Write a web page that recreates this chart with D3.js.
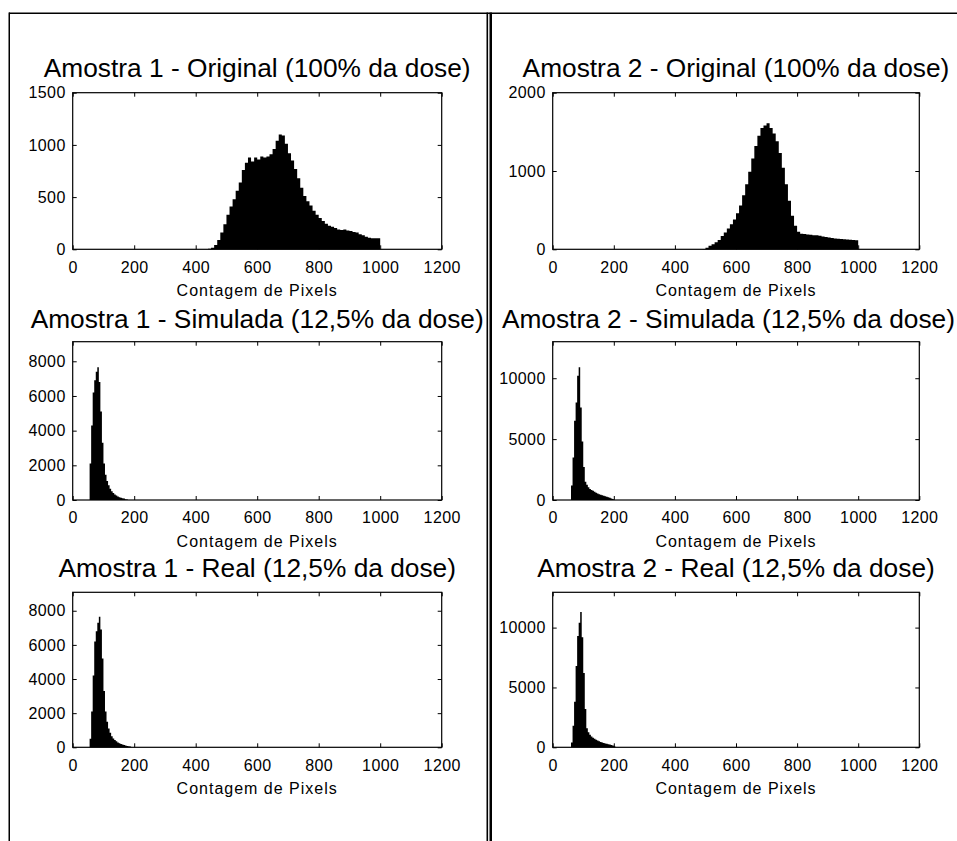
<!DOCTYPE html>
<html><head><meta charset="utf-8">
<script src="https://cdn.jsdelivr.net/npm/d3@7"></script>
<style>body{margin:0;background:#fff} svg{display:block}</style>
</head><body>
<svg id="c" width="957" height="841"></svg>
<script>
// ---------- DATA ----------
const xTickValues = [0, 200, 400, 600, 800, 1000, 1200];
const xLabel = "Contagem de Pixels";

const titles = [
  "Amostra 1 - Original (100% da dose)",
  "Amostra 2 - Original (100% da dose)",
  "Amostra 1 - Simulada (12,5% da dose)",
  "Amostra 2 - Simulada (12,5% da dose)",
  "Amostra 1 - Real (12,5% da dose)",
  "Amostra 2 - Real (12,5% da dose)"
];

// Amostra 1 - Original: bin starts (width 10) and counts
const a1OrigBins = [440,450,460,470,480,490,500,510,520,530,540,550,560,570,580,590,600,610,620,630,640,650,660,670,680,690,700,710,720,730,740,750,760,770,780,790,800,810,820,830,840,850,860,870,880,890,900,910,920,930,940,950,960,970,980,990];
const a1OrigCounts = [5,15,40,90,160,240,330,410,480,560,640,760,830,880,840,880,860,890,880,890,910,960,1040,1100,1090,1010,920,850,770,680,590,510,460,420,370,330,300,270,245,225,215,205,190,185,190,180,175,165,160,145,135,120,110,105,105,105];

// Amostra 2 - Original (width 10)
const a2OrigBins = [490,500,510,520,530,540,550,560,570,580,590,600,610,620,630,640,650,660,670,680,690,700,710,720,730,740,750,760,770,780,790,800,810,820,830,840,850,860,870,880,890,900,910,920,930,940,950,960,970,980,990];
const a2OrigCounts = [5,20,45,65,90,120,170,215,265,320,380,460,560,690,830,990,1160,1320,1450,1550,1580,1610,1550,1480,1380,1230,1040,830,620,430,300,225,200,195,190,185,180,178,172,165,158,150,145,138,135,130,128,125,122,120,115];

// Amostra 1 - Simulada (width 5)
const a1SimBins = [55,60,65,70,75,80,85,90,95,100,105,110,115,120,125,130,135,140,145,150,155,160,165,170,175];
const a1SimCounts = [2100,4300,6200,6900,7400,7650,6800,5100,3300,2100,1450,1100,850,650,500,400,320,260,200,160,130,100,80,50,30];

// Amostra 2 - Simulada (width 5)
const a2SimBins = [60,65,70,75,80,85,90,95,100,105,110,115,120,125,130,135,140,145,150,155,160,165,170,175,180,185,190,195];
const a2SimCounts = [1200,3500,6500,8000,10200,10900,7600,4800,2700,1500,1250,1050,900,820,750,680,600,540,480,430,380,340,300,260,220,180,130,80];

// Amostra 1 - Real (width 5)
const a1RealBins = [55,60,65,70,75,80,85,90,95,100,105,110,115,120,125,130,135,140,145,150,155,160,165,170,175,180,185];
const a1RealCounts = [500,2100,4200,6200,6800,7300,7650,6900,5200,3300,2100,1500,1100,850,650,520,430,350,280,230,190,160,130,100,80,60,40];

// Amostra 2 - Real (width 5)
const a2RealBins = [60,65,70,75,80,85,90,95,100,105,110,115,120,125,130,135,140,145,150,155,160,165,170,175,180,185,190,195,200];
const a2RealCounts = [400,1800,3800,6800,9300,10400,11300,9200,6200,3200,1600,1250,1050,900,800,720,640,570,500,440,400,360,320,290,260,230,190,140,90];

const yMaxes = [1500, 2000, 9130, 13000, 9080, 12950];
const yTickSets = [
  [0, 500, 1000, 1500],
  [0, 1000, 2000],
  [0, 2000, 4000, 6000, 8000],
  [0, 5000, 10000],
  [0, 2000, 4000, 6000, 8000],
  [0, 5000, 10000]
];
const binWidths = [10, 10, 5, 5, 5, 5];

// ---------- LAYOUT ----------
const cols = [{x0: 72.7, x1: 441.7}, {x0: 552.7, x1: 919.3}];
const rows = [
  {y0: 92.7, y1: 249.3, ty: 77.3},
  {y0: 341.7, y1: 500, ty: 328.3},
  {y0: 592.3, y1: 747.3, ty: 577.3}
];

const series = [
  [a1OrigBins, a1OrigCounts], [a2OrigBins, a2OrigCounts],
  [a1SimBins, a1SimCounts], [a2SimBins, a2SimCounts],
  [a1RealBins, a1RealCounts], [a2RealBins, a2RealCounts]
];

const svg = d3.select("#c");
const FONT = "'Liberation Sans', Arial, sans-serif";
const fmt = d3.format("d");

// frame lines
const frame = svg.append("g").attr("fill", "#000");
frame.append("rect").attr("x", 9).attr("y", 12.5).attr("width", 948).attr("height", 1.5);
frame.append("rect").attr("x", 8.5).attr("y", 12.5).attr("width", 1.5).attr("height", 829);
frame.append("rect").attr("x", 486.5).attr("y", 12.5).attr("width", 1.6).attr("height", 829);
frame.append("rect").attr("x", 489.5).attr("y", 12.5).attr("width", 2.5).attr("height", 829);

series.forEach(([bins, counts], i) => {
  const col = cols[i % 2], row = rows[Math.floor(i / 2)];
  const x = d3.scaleLinear().domain([0, 1200]).range([col.x0, col.x1]);
  const y = d3.scaleLinear().domain([0, yMaxes[i]]).range([row.y1, row.y0]);
  const g = svg.append("g");
  const bw = binWidths[i];

  // histogram as a single stepped area (bins with their counts, closed at the last bin edge)
  const pts = bins.map((b, k) => [b, counts[k]]);
  pts.push([bins[bins.length - 1] + bw, counts[counts.length - 1]]);
  const area = d3.area()
    .x(d => x(d[0])).y0(y(0)).y1(d => y(d[1]))
    .curve(d3.curveStepAfter);
  g.append("path").datum(pts).attr("d", area).attr("fill", "#000").attr("stroke", "none");

  // axes
  const ax = [];
  ax.push(g.append("g").attr("transform", `translate(0,${row.y1})`)
    .call(d3.axisBottom(x).tickValues(xTickValues).tickFormat(fmt).tickSizeInner(-4).tickSizeOuter(0).tickPadding(12)));
  ax.push(g.append("g").attr("transform", `translate(0,${row.y0})`)
    .call(d3.axisTop(x).tickValues(xTickValues).tickSizeInner(-4).tickSizeOuter(0).tickFormat("")));
  ax.push(g.append("g").attr("transform", `translate(${col.x0},0)`)
    .call(d3.axisLeft(y).tickValues(yTickSets[i]).tickFormat(fmt).tickSizeInner(-4).tickSizeOuter(0).tickPadding(7)));
  ax.push(g.append("g").attr("transform", `translate(${col.x1},0)`)
    .call(d3.axisRight(y).tickValues(yTickSets[i]).tickSizeInner(-4).tickSizeOuter(0).tickFormat("")));
  ax.forEach(a => {
    a.select(".domain").remove();
    a.selectAll("line").attr("stroke", "#000").attr("stroke-width", 1);
    a.selectAll("text").attr("font-family", FONT).attr("font-size", 16)
      .attr("fill", "#000").attr("letter-spacing", "0.4px");
  });

  // box
  g.append("rect").attr("x", col.x0).attr("y", row.y0)
    .attr("width", col.x1 - col.x0).attr("height", row.y1 - row.y0)
    .attr("fill", "none").attr("stroke", "#000").attr("stroke-width", 1.2);

  // title (kept inside the page if it would overflow the right edge)
  const cx = (col.x0 + col.x1) / 2;
  const t = g.append("text").attr("x", cx).attr("y", row.ty)
    .attr("text-anchor", "middle").attr("font-family", FONT).attr("font-size", 26.3)
    .attr("fill", "#000").text(titles[i]);
  const w = t.node().getComputedTextLength();
  if (cx + w / 2 > 955) t.attr("x", 955 - w / 2);

  // x label
  g.append("text").attr("x", cx).attr("y", row.y1 + 47)
    .attr("text-anchor", "middle").attr("font-family", FONT).attr("font-size", 16)
    .attr("letter-spacing", "1px").attr("fill", "#000").text(xLabel);
});
</script>
</body></html>
